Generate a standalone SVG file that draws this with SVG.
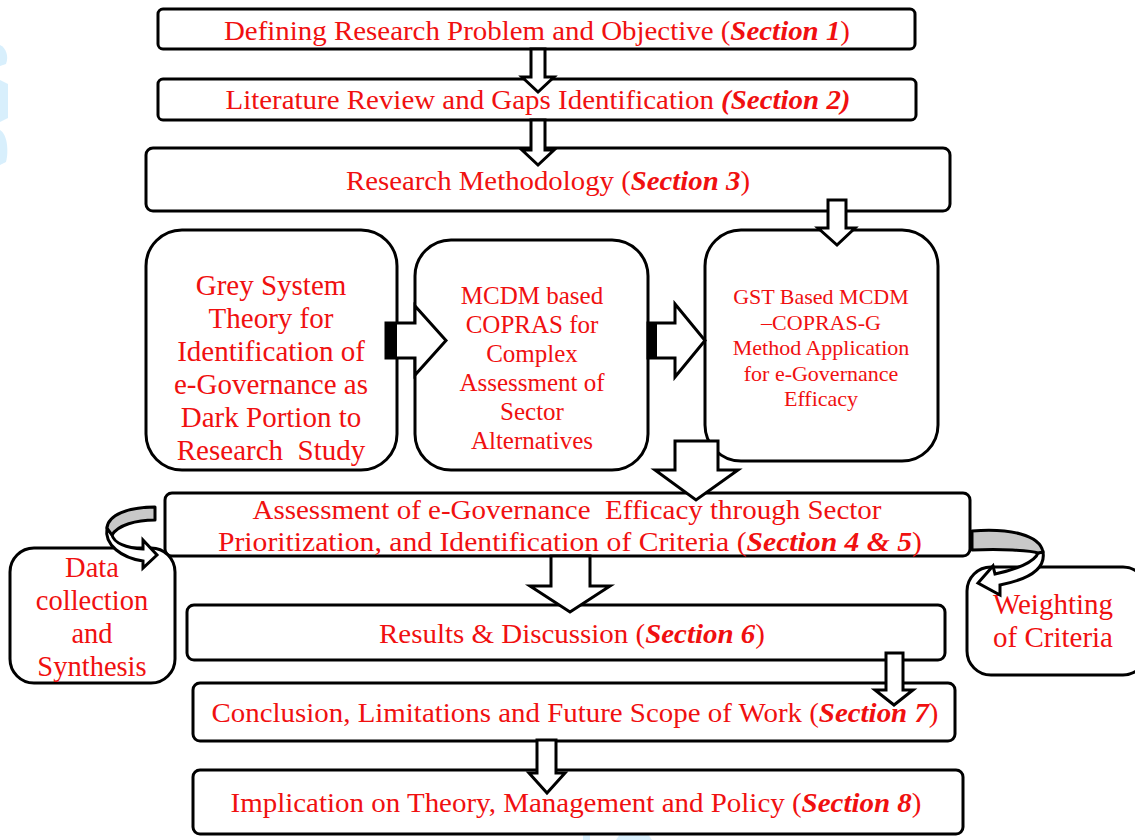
<svg xmlns="http://www.w3.org/2000/svg" width="1135" height="840" viewBox="0 0 1135 840">
<style>
.box{fill:#fff;stroke:#000;stroke-width:3}
.arr{fill:#fff;stroke:#000;stroke-width:3;stroke-linejoin:miter}
.grey{fill:#c8c8c8;stroke:#000;stroke-width:3;stroke-linejoin:round}
.t{font-family:"Liberation Serif","Times New Roman",serif;fill:#f01010;text-anchor:middle;white-space:pre}
.s{font-weight:bold;font-style:italic}
.wm{fill:#d8effc}
</style>
<rect width="1135" height="840" fill="#fff"/>
<g id="watermark">
<path class="wm" d="M0,45 C6,48 9,56 6,64 L0,66 Z"/>
<path class="wm" d="M0,80 L8,84 L8,118 L0,122 Z"/>
<path class="wm" d="M0,130 C7,134 9,150 6,162 L0,165 Z"/>
<path class="wm" d="M583,834 L590,834 L590,840 L583,840 Z"/>
<path class="wm" d="M620,834 L648,834 L652,840 L616,840 Z"/>
</g>
<g id="n1"><rect class="box" x="158" y="9" width="757" height="40" rx="5"/>
<text class="t" x="537" y="40" font-size="28" textLength="626" lengthAdjust="spacingAndGlyphs">Defining Research Problem and Objective (<tspan class="s">Section 1</tspan>)</text></g>
<g id="n2"><rect class="box" x="158" y="79" width="758" height="41" rx="5"/>
<text class="t" x="538" y="109" font-size="28" textLength="625" lengthAdjust="spacingAndGlyphs">Literature Review and Gaps Identification <tspan class="s">(Section 2)</tspan></text></g>
<g id="n3"><rect class="box" x="146" y="148" width="804" height="63" rx="7"/>
<text class="t" x="548" y="190" font-size="28" textLength="404" lengthAdjust="spacingAndGlyphs">Research Methodology (<tspan class="s">Section 3</tspan>)</text></g>
<g id="n4"><rect class="box" x="146" y="230" width="251" height="240" rx="36"/>
<text class="t" font-size="29"><tspan x="271" y="295">Grey System</tspan><tspan x="271" y="328">Theory for</tspan><tspan x="271" y="361">Identification of</tspan><tspan x="271" y="394">e-Governance as</tspan><tspan x="271" y="427">Dark Portion to</tspan><tspan x="271" y="460">Research  Study</tspan></text></g>
<g id="n5"><rect class="box" x="415" y="240" width="233" height="230" rx="36"/>
<text class="t" font-size="25"><tspan x="532" y="304">MCDM based</tspan><tspan x="532" y="333">COPRAS for</tspan><tspan x="532" y="362">Complex</tspan><tspan x="532" y="391">Assessment of</tspan><tspan x="532" y="420">Sector</tspan><tspan x="532" y="449">Alternatives</tspan></text></g>
<g id="n6"><rect class="box" x="705" y="230" width="233" height="231" rx="36"/>
<text class="t" font-size="22"><tspan x="821" y="304">GST Based MCDM</tspan><tspan x="821" y="330">–COPRAS-G</tspan><tspan x="821" y="355">Method Application</tspan><tspan x="821" y="381">for e-Governance</tspan><tspan x="821" y="406">Efficacy</tspan></text></g>
<g id="n7"><rect class="box" x="165" y="493" width="805" height="63" rx="7"/>
<text class="t" font-size="28"><tspan x="567" y="519" textLength="629" lengthAdjust="spacingAndGlyphs">Assessment of e-Governance  Efficacy through Sector</tspan><tspan x="570" y="551" textLength="704" lengthAdjust="spacingAndGlyphs">Prioritization, and Identification of Criteria (<tspan class="s">Section 4 &amp; 5</tspan>)</tspan></text></g>
<g id="n8"><rect class="box" x="10" y="548" width="165" height="135" rx="24"/>
<text class="t" font-size="28.5"><tspan x="92" y="577">Data</tspan><tspan x="92" y="610">collection</tspan><tspan x="92" y="643">and</tspan><tspan x="92" y="676">Synthesis</tspan></text></g>
<g id="n9"><rect class="box" x="967" y="567" width="180" height="108" rx="24"/>
<text class="t" font-size="29"><tspan x="1053" y="614">Weighting</tspan><tspan x="1053" y="647">of Criteria</tspan></text></g>
<g id="n10"><rect class="box" x="187" y="605" width="758" height="55" rx="7"/>
<text class="t" x="572" y="643" font-size="28" textLength="386" lengthAdjust="spacingAndGlyphs">Results &amp; Discussion (<tspan class="s">Section 6</tspan>)</text></g>
<g id="n11"><rect class="box" x="193" y="683" width="762" height="58" rx="7"/>
<text class="t" x="575" y="722" font-size="28" textLength="727" lengthAdjust="spacingAndGlyphs">Conclusion, Limitations and Future Scope of Work (<tspan class="s">Section 7</tspan>)</text></g>
<g id="n12"><rect class="box" x="193" y="770" width="770" height="64" rx="7"/>
<text class="t" x="576" y="812" font-size="28" textLength="691" lengthAdjust="spacingAndGlyphs">Implication on Theory, Management and Policy (<tspan class="s">Section 8</tspan>)</text></g>
<g id="connectors">
<polygon class="arr" points="531,49 545,49 545,77 554,77 538,92 522,77 531,77"/>
<polygon class="arr" points="531,120 545,120 545,150 554,150 538,165 522,150 531,150"/>
<polygon class="arr" points="828,200 846,200 846,228 855,228 837,245 818,228 828,228"/>
<polygon class="arr" points="386,323 415,323 415,306 446,340.5 415,375 415,358 386,358"/>
<rect x="386" y="323" width="11" height="35" fill="#000"/>
<polygon class="arr" points="648,323 675,323 675,304 705,340.5 675,377 675,358 648,358"/>
<rect x="648" y="323" width="9" height="35" fill="#000"/>
<polygon class="arr" points="675,441 718,441 718,470 738,470 696,500 655,470 675,470"/>
<polygon class="arr" points="551,556 590,556 590,586 610,586 570,612 530,586 551,586"/>
<polygon class="arr" points="886,653 903,653 903,690 913,690 894,705 875,690 886,690"/>
<polygon class="arr" points="537,740 556,740 556,773 565,773 547,793 529,773 537,773"/>
<path class="arr" d="M107,528 C104,545 122,558 143,561 L143,568 L157,555 L143,540 L143,549 C126,548 114,543 112,535 Z"/>
<path class="grey" d="M155,507 C128,507 108,515 107,528 L112,535 C118,525 136,520 155,520 Z"/>
<path class="arr" d="M1043,552 C1046,570 1025,580 1000,585 L1000,595 L978,583 L993,566 L995,574 C1015,570 1035,562 1038,553 Z"/>
<path class="grey" d="M972,531 C1010,528 1040,535 1043,552 L1038,553 C1030,550 1000,549 972,550 Z"/>
</g>
</svg>
